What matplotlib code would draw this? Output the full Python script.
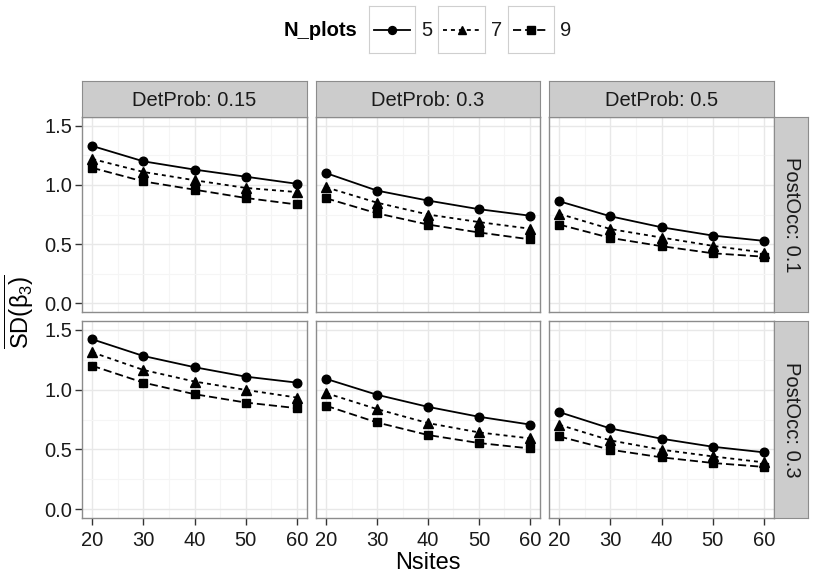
import numpy as np
import matplotlib.pyplot as plt

plt.rcParams['font.family'] = ['Liberation Sans', 'DejaVu Sans']
plt.rcParams['mathtext.fontset'] = 'custom'
plt.rcParams['mathtext.rm'] = 'Liberation Sans'
plt.rcParams['mathtext.it'] = 'Liberation Sans:italic'

# data
nsites = [20, 30, 40, 50, 60]
det_probs = ['0.15', '0.3', '0.5']
post_occs = ['0.1', '0.3']
n_plots = ['5', '7', '9']

# PostOcc 0.1, DetProb 0.15 / 0.3 / 0.5
po01_dp015_n5 = [1.33, 1.20, 1.13, 1.07, 1.01]
po01_dp015_n7 = [1.22, 1.11, 1.04, 0.975, 0.94]
po01_dp015_n9 = [1.145, 1.03, 0.96, 0.89, 0.835]
po01_dp03_n5 = [1.10, 0.952, 0.868, 0.795, 0.74]
po01_dp03_n7 = [0.98, 0.85, 0.75, 0.686, 0.63]
po01_dp03_n9 = [0.887, 0.76, 0.665, 0.598, 0.54]
po01_dp05_n5 = [0.862, 0.735, 0.642, 0.572, 0.527]
po01_dp05_n7 = [0.756, 0.627, 0.555, 0.485, 0.428]
po01_dp05_n9 = [0.665, 0.552, 0.482, 0.422, 0.393]

# PostOcc 0.3
po03_dp015_n5 = [1.422, 1.282, 1.188, 1.109, 1.059]
po03_dp015_n7 = [1.313, 1.165, 1.068, 0.998, 0.934]
po03_dp015_n9 = [1.20, 1.059, 0.962, 0.892, 0.845]
po03_dp03_n5 = [1.09, 0.957, 0.856, 0.773, 0.708]
po03_dp03_n7 = [0.971, 0.837, 0.72, 0.642, 0.592]
po03_dp03_n9 = [0.865, 0.725, 0.62, 0.553, 0.508]
po03_dp05_n5 = [0.812, 0.675, 0.589, 0.522, 0.475]
po03_dp05_n7 = [0.706, 0.575, 0.497, 0.441, 0.391]
po03_dp05_n9 = [0.608, 0.497, 0.433, 0.386, 0.353]

data = [
    [[po01_dp015_n5, po01_dp015_n7, po01_dp015_n9],
     [po01_dp03_n5, po01_dp03_n7, po01_dp03_n9],
     [po01_dp05_n5, po01_dp05_n7, po01_dp05_n9]],
    [[po03_dp015_n5, po03_dp015_n7, po03_dp015_n9],
     [po03_dp03_n5, po03_dp03_n7, po03_dp03_n9],
     [po03_dp05_n5, po03_dp05_n7, po03_dp05_n9]],
]

markers = ['o', '^', 's']
msizes = [6.2, 6.8, 6.2]
styles = ['-', (0, (2.2, 2.2)), (0, (4.5, 2.2))]

W, H = 813, 573
fig = plt.figure(figsize=(W / 100, H / 100), dpi=100)

def px_axes(x0, y0, x1, y1, **kw):
    return fig.add_axes([x0 / W, 1 - y1 / H, (x1 - x0) / W, (y1 - y0) / H], **kw)

cols = [(82, 307), (316, 540), (549, 774)]
rows = [(117, 312), (321, 518)]
border = '#8c8c8c'
strip_fill = '#cccccc'
tick_fs = 14.5

for r, (y0, y1) in enumerate(rows):
    for c, (x0, x1) in enumerate(cols):
        ax = px_axes(x0, y0, x1, y1)
        for k in range(3):
            ax.plot(nsites, data[r][c][k], color='black', linestyle=styles[k],
                    marker=markers[k], markersize=msizes[k], lw=1.3, zorder=3)
        ax.set_xlim(18, 62)
        ax.set_ylim(-0.075, 1.575)
        ax.set_xticks(nsites)
        ax.set_xticks([25, 35, 45, 55], minor=True)
        ax.set_yticks([0, 0.5, 1.0, 1.5])
        ax.set_yticks([0.25, 0.75, 1.25], minor=True)
        ax.grid(True, which='major', color='#e8e8e8', lw=1.0, zorder=0)
        ax.grid(True, which='minor', color='#f5f5f5', lw=0.8, zorder=0)
        ax.set_axisbelow(True)
        for s in ax.spines.values():
            s.set_color(border)
            s.set_linewidth(1.0)
        ax.tick_params(which='minor', length=0)
        ax.tick_params(which='major', direction='out', length=5, width=1.0,
                       color='#333333', labelsize=tick_fs, labelcolor='#1a1a1a', pad=2)
        if c == 0:
            ax.set_yticklabels(['0.0', '0.5', '1.0', '1.5'])
        else:
            ax.tick_params(axis='y', left=False, labelleft=False)
        if r == 1:
            ax.set_xticklabels([str(v) for v in nsites])
            ax.tick_params(axis='x', pad=4)
        else:
            ax.tick_params(axis='x', bottom=False, labelbottom=False)

        if r == 0:
            sa = px_axes(x0, 81, x1, 117)
            sa.set_facecolor(strip_fill)
            sa.set_xticks([]); sa.set_yticks([])
            for s in sa.spines.values():
                s.set_color(border)
            sa.text(0.5, 0.45, 'DetProb: ' + det_probs[c], ha='center', va='center',
                    fontsize=tick_fs, color='#1a1a1a', transform=sa.transAxes)
        if c == 2:
            sa = px_axes(774, y0, 808, y1)
            sa.set_facecolor(strip_fill)
            sa.set_xticks([]); sa.set_yticks([])
            for s in sa.spines.values():
                s.set_color(border)
            sa.text(0.5, 0.5, 'PostOcc: ' + post_occs[r], ha='center', va='center',
                    rotation=-90, fontsize=tick_fs, color='#1a1a1a', transform=sa.transAxes)

# axis titles
fig.text(428 / W, 1 - 563 / H, 'Nsites', ha='center', va='center', fontsize=17)
fig.text(3 / W, 1 - 312 / H, r'$\overline{\mathrm{SD}\left(\mathrm{β}_3\right)}$',
         ha='left', va='center', rotation=90, fontsize=17)

# legend
fig.text(357 / W, 1 - 30 / H, 'N_plots', ha='right', va='center', fontsize=14.5,
         fontweight='bold')
key_x = [(369, 415), (438, 485), (508, 554)]
for k, (kx0, kx1) in enumerate(key_x):
    ka = px_axes(kx0, 6, kx1, 53)
    ka.plot([0, 0.5, 1], [0.5, 0.5, 0.5], color='black', linestyle=styles[k],
            lw=1.3, marker=markers[k], markevery=[1], markersize=msizes[k] - 0.5)
    ka.set_xlim(-0.15, 1.15)
    ka.set_ylim(0, 1)
    ka.set_xticks([]); ka.set_yticks([])
    for s in ka.spines.values():
        s.set_color('#cfcfcf')
    fig.text((kx1 + 6) / W, 1 - 30 / H, n_plots[k], ha='left', va='center',
             fontsize=14.5, color='#1a1a1a')

fig.savefig('out.png', dpi=100)
